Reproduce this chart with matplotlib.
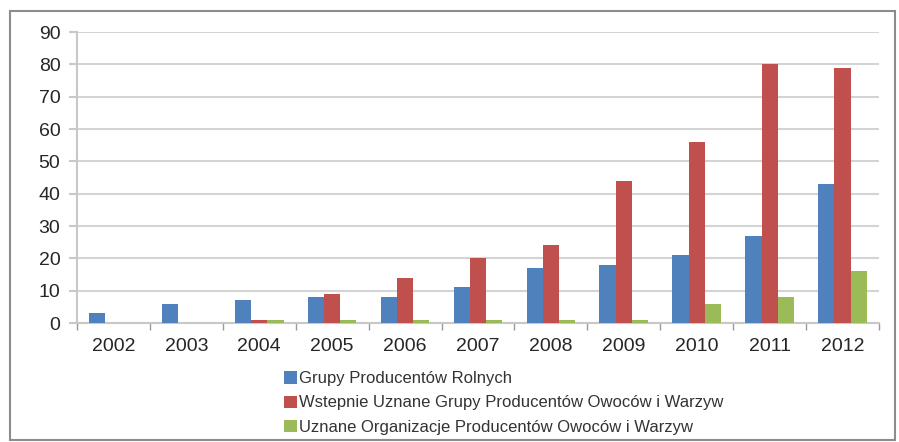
import numpy as np
import matplotlib.pyplot as plt
from matplotlib.patches import Rectangle

years = ['2002', '2003', '2004', '2005', '2006', '2007', '2008', '2009', '2010', '2011', '2012']
grupy_rolne = [3, 6, 7, 8, 8, 11, 17, 18, 21, 27, 43]
wstepnie_uznane = [0, 0, 1, 9, 14, 20, 24, 44, 56, 80, 79]
uznane_org = [0, 0, 1, 1, 1, 1, 1, 1, 6, 8, 16]
labels = ['Grupy Producentów Rolnych',
          'Wstepnie Uznane Grupy Producentów Owoców i Warzyw',
          'Uznane Organizacje Producentów Owoców i Warzyw']
colors = ['#4F81BD', '#C0504D', '#9BBB59']

plt.rcParams['font.family'] = ['Liberation Sans', 'DejaVu Sans']

fig = plt.figure(figsize=(8.99, 4.42), dpi=100)
ax = fig.add_axes([0.0857, 0.2692, 0.892, 0.6584])

x = np.arange(len(years))
w = 1 / 4.5
for i, (vals, lab, c) in enumerate(zip([grupy_rolne, wstepnie_uznane, uznane_org], labels, colors)):
    ax.bar(x + (i - 1) * w, vals, w, color=c, label=lab, zorder=3)

ax.set_xlim(-0.5, len(years) - 0.5)
ax.set_ylim(0, 90)
ax.set_yticks(range(0, 91, 10))
ax.set_xticks(x)
ax.set_xticklabels(years)
ax.set_xticks(np.arange(-0.5, len(years)), minor=True)
ax.tick_params(axis='x', which='major', length=0, pad=11, labelsize=14, labelcolor='#262626')
ax.tick_params(axis='x', which='minor', length=5, color='#9a9a9a', width=1)
ax.tick_params(axis='y', length=6, color='#c8c8c8', width=1.5, pad=6, labelsize=14, labelcolor='#262626')
ax.yaxis.grid(True, color='#d4d4d4', linewidth=1.5, zorder=0)
for s in ['top', 'right']:
    ax.spines[s].set_visible(False)
ax.spines['left'].set_color('#c8c8c8')
ax.spines['left'].set_linewidth(1.5)
ax.spines['bottom'].set_color('#c8c8c8')
ax.spines['bottom'].set_linewidth(1.5)

leg = fig.legend(loc='upper left', bbox_to_anchor=(0.316, 0.16), ncol=1, frameon=False,
                 fontsize=12, handlelength=0.75, handleheight=0.75, handletextpad=0.15,
                 labelspacing=0.55, borderaxespad=0, borderpad=0)
for t in leg.get_texts():
    t.set_color('#333333')

fig.patches.append(Rectangle((10 / 899, 2 / 442), 885 / 899, 429 / 442, transform=fig.transFigure,
                             fill=False, edgecolor='#8c8c8c', linewidth=1.5))

fig.savefig('out.png', dpi=100)
